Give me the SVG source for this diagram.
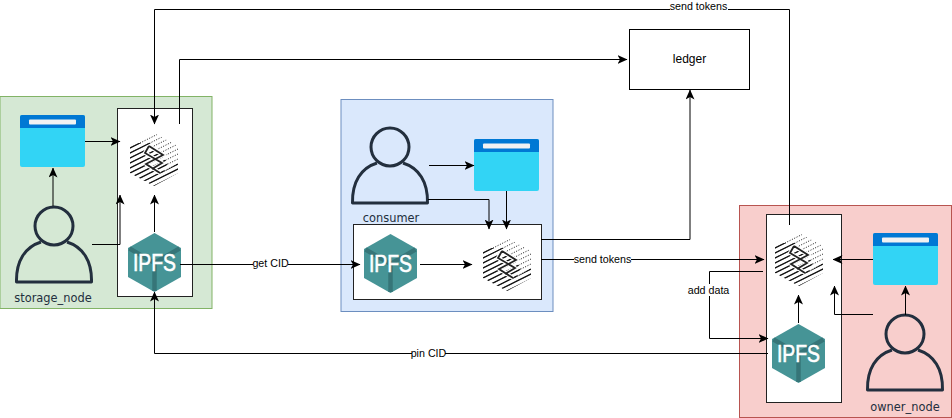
<svg xmlns="http://www.w3.org/2000/svg" xmlns:xlink="http://www.w3.org/1999/xlink" width="952" height="418" viewBox="0 0 952 418">
<style>
text{font-family:"Liberation Sans",Arial,sans-serif;font-size:10.700px;fill:#000;text-anchor:middle}
.name{font-family:"DejaVu Sans",sans-serif;font-size:11.400px;fill:#232f3e}
.con{fill:none;stroke:#000;stroke-width:1;marker-end:url(#arr)}
.box{fill:#fff;stroke:#222;stroke-width:1}
.bg{fill:#fff}
</style>
<defs>
<marker id="arr" viewBox="0 0 10 9" refX="9.500" refY="4.500" markerWidth="10" markerHeight="9" markerUnits="userSpaceOnUse" orient="auto"><path d="M0 0L10 4.500L0 9L2.500 4.500Z" fill="#000"/></marker>
<clipPath id="hc"><path d="M24 0L48 13V40L24 53L0 40V13Z"/></clipPath>
<clipPath id="hl"><path d="M0 10H20L38 30L24 58H0Z M10 53L48 30V53Z"/></clipPath>
<symbol id="win" width="65" height="52" viewBox="0 0 65 52" overflow="visible">
<rect width="65" height="52" rx="2" fill="#32d4f5"/>
<path d="M0 13V2a2 2 0 0 1 2-2H63a2 2 0 0 1 2 2V13Z" fill="#0078d4"/>
<rect x="9" y="4.500" width="47" height="5" rx="1" fill="#f2f2f2"/>
</symbol>
<symbol id="user" width="78" height="78" viewBox="0 0 78 78" overflow="visible">
<circle cx="39" cy="20" r="19" fill="none" stroke="#232f3e" stroke-width="3"/>
<path d="M26 36C10 41 1 55 1.500 76H76.500C77 55 68 41 52 36" fill="none" stroke="#232f3e" stroke-width="3" stroke-linejoin="round"/>
</symbol>
<symbol id="ipfs" width="53" height="59" viewBox="0 0 53 59" overflow="visible">
<path d="M26.500 0L53 15V44L26.500 59L0 44V15Z" fill="#469496"/>
<path d="M1.500 15.500L26.500 30L51.500 15.500M26.500 30V58" fill="none" stroke="#367578" stroke-width="4.500"/>
<text x="26.500" y="38" style="font-size:23px;fill:#fff;stroke:#fff;stroke-width:0.600;font-family:'Liberation Sans',Arial,sans-serif" textLength="43" lengthAdjust="spacingAndGlyphs">IPFS</text>
</symbol>
<symbol id="hatch" width="48" height="53" viewBox="0 0 48 53" overflow="visible">
<g clip-path="url(#hc)" fill="none" stroke="#111" stroke-width="1">
<path stroke-dasharray="1 1.600" d="M-4 12L24 -1.500M-4 17L34 -2M-4 22L44 -2M-4 27L52 -1M-4 32L52 4M-4 37L52 9M-4 42L52 14M-4 47L52 19M-2 51L52 24M4 53L52 29M12 54L52 34M20 55L52 39"/>
<path clip-path="url(#hl)" stroke-width="1.200" d="M-4 12L24 -1.500M-4 17L34 -2M-4 22L44 -2M-4 27L52 -1M-4 32L52 4M-4 37L52 9M-4 42L52 14M-4 47L52 19M-2 51L52 24M4 53L52 29M12 54L52 34M20 55L52 39"/>
</g>
<path d="M19 13L33 22L16 31L30 40M19 13L15 20L32 30L22 36" fill="none" stroke="#fff" stroke-width="4"/>
<path d="M19 13L33 22L16 31L30 40M19 13L15 20L32 30L22 36" fill="none" stroke="#222" stroke-width="1.800"/>
</symbol>
</defs>

<g id="storage_node">
<rect x="0" y="96.500" width="212" height="212" fill="#d5e8d4" stroke="#82b366"/>
<rect class="box" x="117.500" y="108.500" width="75" height="188"/>
<use xlink:href="#win" href="#win" x="20" y="115"/>
<use xlink:href="#user" href="#user" x="15" y="206"/>
<text class="name" x="53" y="302">storage_node</text>
<use xlink:href="#hatch" href="#hatch" x="130" y="133"/>
<use xlink:href="#ipfs" href="#ipfs" x="128" y="233"/>
</g>
<g id="consumer">
<rect x="341" y="99.500" width="212" height="212" fill="#dae8fc" stroke="#6c8ebf"/>
<rect class="box" x="353.500" y="224.500" width="188" height="75"/>
<use xlink:href="#user" href="#user" x="351" y="127"/>
<text class="name" x="391" y="222">consumer</text>
<use xlink:href="#win" href="#win" x="474" y="139"/>
<use xlink:href="#ipfs" href="#ipfs" x="364" y="234"/>
<use xlink:href="#hatch" href="#hatch" x="483" y="238"/>
</g>
<g id="owner_node">
<rect x="739.500" y="205.500" width="212" height="212" fill="#f8cecc" stroke="#b85450"/>
<rect class="box" x="766.500" y="214.500" width="75" height="188"/>
<use xlink:href="#hatch" href="#hatch" x="775" y="233"/>
<use xlink:href="#ipfs" href="#ipfs" x="772" y="324"/>
<use xlink:href="#win" href="#win" x="873" y="233"/>
<use xlink:href="#user" href="#user" x="866" y="314"/>
<text class="name" x="905" y="411">owner_node</text>
</g>
<g id="ledger">
<rect x="629.500" y="29.500" width="120" height="60" fill="#fff" stroke="#000"/>
<text x="689.500" y="63" style="font-size:12px">ledger</text>
</g>
<g id="connectors">
<path class="con" d="M789.500 225V9.500H154.500V124"/>
<path class="con" d="M179.500 124V59.500H627"/>
<path class="con" d="M85 141.500H120"/>
<path class="con" d="M53 206V168"/>
<path class="con" d="M92 244.500H120V195"/>
<path class="con" d="M154.500 232V195"/>
<path class="con" d="M180 264.500H360"/>
<path class="con" d="M768 353.500H154.500V292"/>
<path class="con" d="M429 165.500H474"/>
<path class="con" d="M506.500 191V229"/>
<path class="con" d="M428 199.500H489V229"/>
<path class="con" d="M420 264.500H472"/>
<path class="con" d="M541 239.500H690V90"/>
<path class="con" d="M541 259.500H764"/>
<path class="con" d="M763 271.500H709.500V338.500H768"/>
<path class="con" d="M873 259.500H833"/>
<path class="con" d="M905.500 315V286"/>
<path class="con" d="M873 314.500H834.500V286"/>
<path class="con" d="M798.500 323V295"/>
<rect class="bg" x="670" y="1" width="58" height="12"/><text x="698.500" y="10">send tokens</text>
<rect class="bg" x="253" y="258" width="35" height="12"/><text x="270.500" y="267">get CID</text>
<rect class="bg" x="412" y="348" width="33" height="12"/><text x="428.500" y="357">pin CID</text>
<rect class="bg" x="574" y="253" width="57" height="12"/><text x="602.500" y="263">send tokens</text>
<rect class="bg" x="688" y="284" width="42" height="12"/><text x="708.500" y="294">add data</text>
</g>
</svg>
